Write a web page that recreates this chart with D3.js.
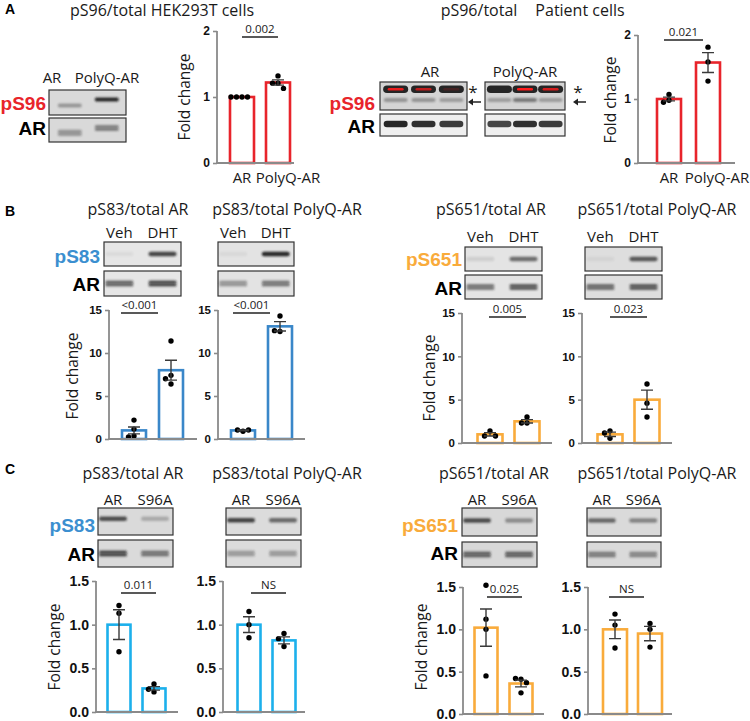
<!DOCTYPE html>
<html><head><meta charset="utf-8">
<script src="https://cdn.jsdelivr.net/npm/d3@7"></script>
<style>body{margin:0;background:#fff} svg{display:block}</style>
</head><body><svg id="fig" width="750" height="721"></svg>
<script>
// ---------------- DATA ----------------
const groupsAR = ["AR", "PolyQ-AR"];
const groupsVD = ["Veh", "DHT"];
const groupsS96 = ["AR", "S96A"];
const lanesPatient = ["1", "2", "3"];

const ticksA = [0, 1, 2];
const ticksB = [0, 5, 10, 15];
const ticksC = [0, 0.5, 1.0, 1.5];

// Panel A
const hekMeans = [1.0, 1.22];
const hekSEM = [0, 0.04];
const hekPoints = [[1, 1, 1, 1], [1.32, 1.21, 1.21, 1.13]];
const patMeans = [1.0, 1.57];
const patSEM = [0.03, 0.155];
const patPoints = [[1.07, 0.98, 0.95], [1.81, 1.58, 1.28]];

// Panel B
const b83ARMeans = [1.0, 8.0];
const b83ARSEM = [0.4, 1.15];
const b83ARPoints = [[2.2, 1.15, 0.35, 0.25], [11.4, 7.4, 7.0, 6.4]];
const b83PQMeans = [1.0, 13.1];
const b83PQSEM = [0.05, 0.55];
const b83PQPoints = [[0.9, 1.05, 1.05], [14.3, 12.5, 12.6]];
const b651ARMeans = [1.0, 2.5];
const b651ARSEM = [0.2, 0.2];
const b651ARPoints = [[1.39, 0.8, 0.8], [3.0, 2.3, 2.3]];
const b651PQMeans = [1.0, 5.0];
const b651PQSEM = [0.25, 1.1];
const b651PQPoints = [[1.4, 1.15, 0.55], [6.8, 4.6, 3.0]];

// Panel C
const c83ARMeans = [1.0, 0.27];
const c83ARSEM = [0.17, 0.02];
const c83ARPoints = [[1.22, 1.13, 0.69], [0.32, 0.23, 0.26]];
const c83PQMeans = [1.0, 0.82];
const c83PQSEM = [0.09, 0.04];
const c83PQPoints = [[1.15, 1.0, 0.85], [0.9, 0.84, 0.75]];
const c651ARMeans = [1.02, 0.36];
const c651ARSEM = [0.22, 0.04];
const c651ARPoints = [[1.52, 1.12, 1.0, 0.45], [0.41, 0.42, 0.37, 0.25]];
const c651PQMeans = [1.0, 0.95];
const c651PQSEM = [0.11, 0.085];
const c651PQPoints = [[1.18, 1.05, 0.78], [1.07, 1.0, 0.79]];

const pValues = ["0.002", "0.021", "<0.001", "<0.001", "0.005", "0.023", "0.011", "NS", "0.025", "NS"];

// Blot band intensities (0..1), one per lane
const blotHEK_pS96 = [0.35, 0.95];
const blotHEK_AR = [0.35, 0.45];
const blotPatAR_upper = [0.95, 0.95, 0.95];
const blotPatAR_lower = [0.35, 0.35, 0.3];
const blotPatAR_red = [0.9, 0.7, 0.15];
const blotPatAR_total = [0.95, 0.9, 0.85];
const blotPatPQ_upper = [0.95, 0.95, 0.95];
const blotPatPQ_lower = [0.3, 0.5, 0.3];
const blotPatPQ_red = [0, 1, 0.8];
const blotPatPQ_total = [0.8, 0.9, 0.85];
const blotB83AR = [[0.05, 0.8], [0.6, 0.75]];
const blotB83PQ = [[0.05, 0.95], [0.35, 0.5]];
const blotB651AR = [[0.1, 0.6], [0.5, 0.65]];
const blotB651PQ = [[0.05, 0.7], [0.55, 0.65]];
const blotC83AR = [[0.75, 0.25], [0.75, 0.5]];
const blotC83PQ = [[0.8, 0.6], [0.3, 0.3]];
const blotC651AR = [[0.75, 0.4], [0.6, 0.6]];
const blotC651PQ = [[0.6, 0.45], [0.45, 0.4]];

// ---------------- DRAWING ----------------
const RED = "#e8242b", BLUE_B = "#3a87c9", BLUE_C = "#1cb0ec", ORANGE = "#f9ab3b";
const FONT = "'Open Sans', sans-serif";
const BOLD = "'Liberation Sans', Arial, sans-serif";
const svg = d3.select("#fig");

const defs = svg.append("defs");
defs.append("filter").attr("id", "blur").attr("x", "-30%").attr("y", "-100%").attr("width", "160%").attr("height", "300%")
  .append("feGaussianBlur").attr("stdDeviation", 1.1);
defs.append("filter").attr("id", "blur2").attr("x", "-30%").attr("y", "-100%").attr("width", "160%").attr("height", "300%")
  .append("feGaussianBlur").attr("stdDeviation", 0.6);

function text(x, y, s, o = {}) {
  return svg.append("text").attr("x", x).attr("y", y).text(s)
    .attr("font-family", o.family || FONT).attr("font-size", o.size || 15)
    .attr("font-weight", o.weight || "normal").attr("fill", o.fill || "#1a1a1a")
    .attr("text-anchor", o.anchor || "middle");
}

// panel letters
text(5, 14, "A", {family: BOLD, weight: "bold", size: 14, anchor: "start", fill: "#000"});
text(5, 216, "B", {family: BOLD, weight: "bold", size: 14, anchor: "start", fill: "#000"});
text(5, 474, "C", {family: BOLD, weight: "bold", size: 14, anchor: "start", fill: "#000"});

// titles
text(162, 16, "pS96/total HEK293T cells", {size: 16});
text(479, 16, "pS96/total", {size: 16});
text(580, 16, "Patient cells", {size: 16});
[["pS83/total AR", 138], ["pS83/total PolyQ-AR", 287], ["pS651/total AR", 491], ["pS651/total PolyQ-AR", 657]]
  .forEach(([t, x]) => text(x, 215, t, {size: 16}));
[["pS83/total AR", 133], ["pS83/total PolyQ-AR", 287], ["pS651/total AR", 494], ["pS651/total PolyQ-AR", 657]]
  .forEach(([t, x]) => text(x, 479, t, {size: 16}));

// ---- blots ----
function blotBox(x, y, w, h, bg) {
  svg.append("rect").attr("x", x).attr("y", y).attr("width", w).attr("height", h)
    .attr("fill", bg).attr("stroke", "#333").attr("stroke-width", 1.2);
}
function bands(x, y, w, h, lanes, intens, o) {
  const lx = d3.scalePoint().domain(lanes).range([x + w * o.l0, x + w * o.l1]);
  lanes.forEach((ln, i) => {
    const bw = o.bw, bh = o.bh;
    const cy = y + h * (o.by ? o.by[i] : 0.5);
    const reps = o.double ? [-bh * 0.45, bh * 0.45] : [0];
    reps.forEach(dy => {
      svg.append("rect").attr("x", lx(ln) - bw / 2).attr("y", cy + dy - bh / 2)
        .attr("width", bw).attr("height", bh).attr("rx", bh / 2)
        .attr("fill", o.col || "#1e1e1e").attr("opacity", intens[i])
        .attr("filter", o.sharp ? "url(#blur2)" : "url(#blur)");
    });
  });
  return lx;
}
function laneLabels(lx, lanes, y) {
  lanes.forEach(ln => text(lx(ln), y, ln, {size: 15}));
}

// A1 blots (HEK)
blotBox(49, 90, 77, 25, "#d9d9d9");
blotBox(49, 118, 77, 24, "#d9d9d9");
bands(49, 90, 77, 25, groupsAR, blotHEK_pS96, {l0: 0.27, l1: 0.75, bw: 24, bh: 4, by: [0.62, 0.38]});
bands(49, 118, 77, 24, groupsAR, blotHEK_AR, {l0: 0.27, l1: 0.75, bw: 24, bh: 3.2, by: [0.62, 0.42], double: true});
text(52, 83, "AR", {size: 15});
text(107, 83, "PolyQ-AR", {size: 15});
text(46, 110, "pS96", {family: BOLD, weight: "bold", size: 19, fill: RED, anchor: "end"});
text(46, 135, "AR", {family: BOLD, weight: "bold", size: 19, fill: "#000", anchor: "end"});

// A2 blots (patient)
[[380, 87, blotPatAR_upper, blotPatAR_lower, blotPatAR_red, blotPatAR_total],
 [485, 80, blotPatPQ_upper, blotPatPQ_lower, blotPatPQ_red, blotPatPQ_total]].forEach(([bx, w, up, lo, rd, tot]) => {
  blotBox(bx, 82, w, 28, "#d4d4d4");
  blotBox(bx, 114, w, 22, "#efefef");
  bands(bx, 82, w, 28, lanesPatient, lo, {l0: 0.18, l1: 0.82, bw: 24, bh: 4, by: [0.64, 0.64, 0.64]});
  bands(bx, 82, w, 28, lanesPatient, up, {l0: 0.18, l1: 0.82, bw: 25, bh: 7.5, by: [0.26, 0.26, 0.26], sharp: true});
  bands(bx, 82, w, 28, lanesPatient, rd, {l0: 0.18, l1: 0.82, bw: 16, bh: 2.6, by: [0.26, 0.26, 0.26], col: "#ff1a1a", sharp: true});
  bands(bx, 114, w, 22, lanesPatient, tot, {l0: 0.18, l1: 0.82, bw: 24, bh: 6.5, by: [0.45, 0.45, 0.45], sharp: true});
});
text(430, 77, "AR", {size: 15});
text(525, 77, "PolyQ-AR", {size: 15});
[[473, 98], [578, 98]].forEach(([x, y]) => text(x, y, "*", {size: 17, anchor: "middle"}));
[[468, 481], [573, 586]].forEach(([x1, x2]) => {
  svg.append("line").attr("x1", x1 + 3).attr("x2", x2).attr("y1", 102).attr("y2", 102).attr("stroke", "#222").attr("stroke-width", 1.5);
  svg.append("path").attr("d", `M${x1},102 l5,-3.5 l0,7 z`).attr("fill", "#222");
});
text(375, 110, "pS96", {family: BOLD, weight: "bold", size: 19, fill: RED, anchor: "end"});
text(375, 133, "AR", {family: BOLD, weight: "bold", size: 19, fill: "#000", anchor: "end"});

// B / C blots
function blotPair(x, y1, h1, y2, h2, w, lanes, dat, labY, bg, by1) {
  blotBox(x, y1, w, h1, bg);
  blotBox(x, y2, w, h2, bg);
  const lx = bands(x, y1, w, h1, lanes, dat[0], {l0: 0.2, l1: 0.76, bw: 28, bh: 4.5, by: [by1, by1]});
  bands(x, y2, w, h2, lanes, dat[1], {l0: 0.2, l1: 0.76, bw: 28, bh: 3.2, by: [0.5, 0.5], double: true});
  laneLabels(lx, lanes, labY);
}
blotPair(104, 242, 24, 271, 25, 77, groupsVD, blotB83AR, 238, "#e6e6e6", 0.5);
blotPair(218, 242, 24, 271, 25, 76, groupsVD, blotB83PQ, 238, "#e3e3e3", 0.5);
blotPair(465, 247, 24, 275, 24, 77, groupsVD, blotB651AR, 242, "#e4e4e4", 0.5);
blotPair(585, 247, 24, 275, 24, 77, groupsVD, blotB651PQ, 242, "#dedede", 0.5);
blotPair(98, 508, 27, 540, 27, 75, groupsS96, blotC83AR, 505, "#dadada", 0.4);
blotPair(226, 508, 27, 540, 27, 75, groupsS96, blotC83PQ, 505, "#dcdcdc", 0.45);
blotPair(462, 508, 28, 542, 25, 75, groupsS96, blotC651AR, 505, "#d8d8d8", 0.45);
blotPair(587, 508, 28, 542, 25, 74, groupsS96, blotC651PQ, 505, "#dadada", 0.45);

text(100, 263, "pS83", {family: BOLD, weight: "bold", size: 19, fill: "#3b8fd0", anchor: "end"});
text(100, 291, "AR", {family: BOLD, weight: "bold", size: 19, fill: "#000", anchor: "end"});
text(462, 266, "pS651", {family: BOLD, weight: "bold", size: 19, fill: ORANGE, anchor: "end"});
text(462, 295, "AR", {family: BOLD, weight: "bold", size: 19, fill: "#000", anchor: "end"});
text(95, 532, "pS83", {family: BOLD, weight: "bold", size: 19, fill: "#3b8fd0", anchor: "end"});
text(95, 561, "AR", {family: BOLD, weight: "bold", size: 19, fill: "#000", anchor: "end"});
text(458, 532, "pS651", {family: BOLD, weight: "bold", size: 19, fill: ORANGE, anchor: "end"});
text(458, 560, "AR", {family: BOLD, weight: "bold", size: 19, fill: "#000", anchor: "end"});

// ---- bar charts ----
function barChart(c) {
  const g = svg.append("g");
  const y = d3.scaleLinear().domain([0, d3.max(c.ticks)]).range([c.y0, c.yTop]);
  const x = d3.scalePoint().domain(c.groups).range(c.cx);
  c.groups.forEach((gr, i) => {
    g.append("rect").attr("x", x(gr) - c.bw / 2).attr("y", y(c.means[i]))
      .attr("width", c.bw).attr("height", c.y0 - y(c.means[i]))
      .attr("fill", "#fff").attr("stroke", c.color).attr("stroke-width", 2.6);
  });
  c.groups.forEach((gr, i) => {
    const placed = [];
    c.pts[i].forEach(v => {
      const py = y(v);
      const offs = [0, -5.5, 5.5, -11, 11];
      let ox = 0;
      for (const o of offs) {
        if (placed.every(p => Math.hypot(p[0] - o, p[1] - py) > 5.4)) { ox = o; break; }
      }
      placed.push([ox, py]);
      g.append("circle").attr("cx", x(gr) + ox).attr("cy", py).attr("r", 2.7).attr("fill", "#000");
    });
  });
  c.groups.forEach((gr, i) => {
    const s = c.sem[i];
    if (!s) return;
    const cx = x(gr), t = y(c.means[i] + s), b = y(c.means[i] - s);
    g.append("path").attr("d", `M${cx},${t}V${b}M${cx - 6},${t}H${cx + 6}M${cx - 6},${b}H${cx + 6}`)
      .attr("stroke", "#3a3a3a").attr("stroke-width", 1.4).attr("fill", "none");
  });
  const ax = g.append("g").attr("transform", `translate(${c.axisX},0)`)
    .call(d3.axisLeft(y).tickValues(c.ticks).tickSize(4).tickPadding(3).tickFormat(c.fmt));
  ax.select(".domain").attr("stroke", "#8a8a8a").attr("stroke-width", 1.8).attr("d", `M0,${c.y0}V${c.yTop}`);
  ax.selectAll(".tick line").attr("stroke", "#8a8a8a").attr("stroke-width", 1.6);
  ax.selectAll(".tick text").attr("font-family", BOLD).attr("font-weight", "bold")
    .attr("font-size", c.tickSize).attr("fill", "#111");
  g.append("line").attr("x1", c.axisX - 1).attr("x2", c.axisEnd).attr("y1", c.y0).attr("y2", c.y0)
    .attr("stroke", "#8a8a8a").attr("stroke-width", 1.8);
  if (c.catY) {
    c.groups.forEach((gr, i) => text(x(gr) + (c.labShift ? c.labShift[i] : 0), c.catY, gr, {size: 15}));
  }
  if (c.ylab) {
    svg.append("text").attr("transform", `translate(${c.ylab[0]},${c.ylab[1]}) rotate(-90)`)
      .attr("text-anchor", "middle").attr("font-family", FONT).attr("font-size", 15.5)
      .attr("fill", "#1a1a1a").text("Fold change");
  }
  const s0 = x(c.groups[0]) + (c.sigShift || 0), s1 = x(c.groups[1]) + (c.sigShift || 0);
  g.append("line").attr("x1", s0).attr("x2", s1).attr("y1", c.sigY).attr("y2", c.sigY)
    .attr("stroke", "#222").attr("stroke-width", 1.4);
  text((s0 + s1) / 2, c.sigY - 4, c.p, {size: 11.5});
}

const fmtInt = d3.format("d"), fmt1 = d3.format(".1f");
barChart({groups: groupsAR, means: hekMeans, sem: hekSEM, pts: hekPoints, color: RED, ticks: ticksA, fmt: fmtInt,
  axisX: 217, axisEnd: 294, y0: 163, yTop: 31, cx: [242, 278], bw: 24, tickSize: 12, catY: 183, labShift: [0, 10],
  ylab: [190, 97], sigY: 37, p: pValues[0]});
barChart({groups: groupsAR, means: patMeans, sem: patSEM, pts: patPoints, color: RED, ticks: ticksA, fmt: fmtInt,
  axisX: 638, axisEnd: 735, y0: 163, yTop: 35, cx: [669, 708], bw: 24, tickSize: 12, catY: 183, labShift: [0, 9],
  ylab: [616, 100], sigY: 40, sigShift: -5, p: pValues[1]});

barChart({groups: groupsVD, means: b83ARMeans, sem: b83ARSEM, pts: b83ARPoints, color: BLUE_B, ticks: ticksB, fmt: fmtInt,
  axisX: 109, axisEnd: 197, y0: 439, yTop: 310, cx: [134, 171], bw: 24, tickSize: 11.5, ylab: [78, 376], sigY: 313, sigShift: -13, p: pValues[2]});
barChart({groups: groupsVD, means: b83PQMeans, sem: b83PQSEM, pts: b83PQPoints, color: BLUE_B, ticks: ticksB, fmt: fmtInt,
  axisX: 218, axisEnd: 305, y0: 439, yTop: 310, cx: [243, 280], bw: 24, tickSize: 11.5, sigY: 313, sigShift: -10, p: pValues[3]});
barChart({groups: groupsVD, means: b651ARMeans, sem: b651ARSEM, pts: b651ARPoints, color: ORANGE, ticks: ticksB, fmt: fmtInt,
  axisX: 462, axisEnd: 552, y0: 443, yTop: 313, cx: [490, 527], bw: 25, tickSize: 11.5, ylab: [435, 378], sigY: 317, sigShift: -1, p: pValues[4]});
barChart({groups: groupsVD, means: b651PQMeans, sem: b651PQSEM, pts: b651PQPoints, color: ORANGE, ticks: ticksB, fmt: fmtInt,
  axisX: 582, axisEnd: 672, y0: 443, yTop: 313, cx: [610, 647], bw: 25, tickSize: 11.5, sigY: 317, p: pValues[5]});

barChart({groups: groupsS96, means: c83ARMeans, sem: c83ARSEM, pts: c83ARPoints, color: BLUE_C, ticks: ticksC, fmt: fmt1,
  axisX: 96, axisEnd: 178, y0: 712, yTop: 581, cx: [119, 154], bw: 23, tickSize: 14, ylab: [60, 647], sigY: 593, sigShift: 2, p: pValues[6]});
barChart({groups: groupsS96, means: c83PQMeans, sem: c83PQSEM, pts: c83PQPoints, color: BLUE_C, ticks: ticksC, fmt: fmt1,
  axisX: 223, axisEnd: 305, y0: 712, yTop: 581, cx: [249, 284], bw: 23, tickSize: 14, sigY: 593, sigShift: 2, p: pValues[7]});
barChart({groups: groupsS96, means: c651ARMeans, sem: c651ARSEM, pts: c651ARPoints, color: ORANGE, ticks: ticksC, fmt: fmt1,
  axisX: 463, axisEnd: 544, y0: 714, yTop: 587, cx: [486, 521], bw: 23, tickSize: 14, ylab: [427, 647], sigY: 597, sigShift: 1, p: pValues[8]});
barChart({groups: groupsS96, means: c651PQMeans, sem: c651PQSEM, pts: c651PQPoints, color: ORANGE, ticks: ticksC, fmt: fmt1,
  axisX: 588, axisEnd: 672, y0: 714, yTop: 587, cx: [615, 650], bw: 24, tickSize: 14, sigY: 597, sigShift: -6, p: pValues[9]});
</script>
</body></html>
